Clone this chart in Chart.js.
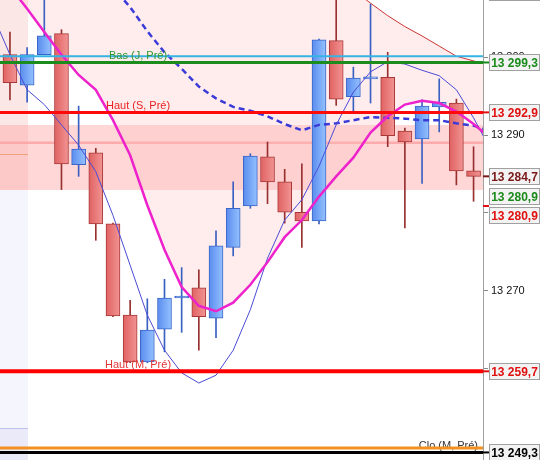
<!DOCTYPE html>
<html><head><meta charset="utf-8">
<script src="https://cdn.jsdelivr.net/npm/chart.js@4"></script>
<style>html,body{margin:0;padding:0;background:#fff;overflow:hidden}</style>
</head><body>
<canvas id="c" width="541" height="460"></canvas>
<script>
// ---- data ----
const candleIndex = [0,1,2,3,4,5,6,7,8,9,10,11,12,13,14,15,16,17,18,19,20,21,22,23,24,25,26,27,28];
const opens  = [13301.5,13300.3,13296.4,13300.3,13303.0,13286.2,13287.7,13278.6,13266.9,13260.9,13265.1,13269.1,13270.4,13266.5,13275.6,13280.9,13287.2,13284.0,13280.1,13279.0,13302.1,13294.9,13297.2,13297.4,13290.5,13289.5,13293.6,13294.1,13285.4];
const highs  = [13303.0,13303.2,13301.2,13309.0,13303.5,13293.7,13288.3,13278.7,13268.8,13269.0,13271.5,13273.0,13272.7,13277.7,13284.0,13287.6,13289.1,13285.6,13286.3,13302.3,13309.0,13298.7,13306.8,13300.6,13290.9,13294.5,13297.2,13294.6,13288.5];
const lows   = [13292.0,13294.5,13294.2,13300.3,13283.0,13284.7,13276.5,13266.7,13260.8,13260.8,13262.2,13264.7,13262.4,13264.0,13274.5,13280.6,13281.2,13278.7,13275.6,13278.6,13293.8,13293.1,13294.1,13288.5,13278.1,13283.8,13290.4,13283.6,13281.5];
const closes = [13296.0,13296.7,13300.3,13302.7,13286.3,13288.2,13278.6,13266.8,13260.9,13265.0,13269.1,13269.1,13266.7,13275.8,13280.6,13287.3,13284.0,13280.1,13279.0,13302.2,13294.6,13297.3,13297.2,13289.9,13289.1,13293.7,13294.2,13285.4,13284.7];

const maFast = [13305.4,13300.3,13295.8,13293.9,13291.3,13288.7,13285.3,13279.7,13273.3,13266.9,13262.4,13259.5,13258.2,13259.2,13262.4,13267.6,13274.2,13279.1,13281.7,13286.0,13291.3,13295.5,13298.1,13299.4,13299.1,13298.3,13297.6,13295.8,13292.2,13288.1];
const maMid  = [13311.2,13309.0,13306.2,13303.2,13300.3,13297.7,13295.8,13291.9,13287.4,13281.0,13275.3,13270.5,13268.1,13267.4,13268.5,13270.8,13273.7,13276.9,13279.1,13282.1,13284.7,13287.1,13290.3,13292.4,13293.9,13294.4,13294.1,13293.0,13291.4,13289.6];
const maDash = [13326.5,13324.6,13322.4,13320.1,13317.6,13314.6,13311.5,13308.9,13306.4,13303.3,13300.6,13298.5,13296.2,13294.7,13293.6,13293.1,13292.4,13291.4,13290.6,13291.3,13291.5,13291.9,13292.3,13292.2,13292.1,13291.9,13291.9,13291.5,13291.2,13290.5];
const maSlow = [13336.8,13335.8,13334.7,13333.6,13332.4,13331.3,13330.0,13328.7,13327.3,13325.9,13324.5,13323.0,13321.4,13319.9,13318.3,13316.9,13315.5,13314.2,13313.0,13311.7,13310.1,13308.6,13306.9,13305.3,13303.9,13302.7,13301.4,13300.1,13299.5,13298.9];

const yTicks = [13260,13270,13280,13290,13300];

const levelValues = [13300.1, 13299.3, 13292.9, 13259.7, 13249.3, 13249.87];
const levelNames  = ['', 'Bas (J, Pré)', 'Haut (S, Pré)', 'Haut (M, Pré)', 'Clo (M, Pré)', ''];
const levelColors = ['#35b4e3', '#1c8c1c', '#ff0a0a', '#ff0000', '#000000', '#f39022'];
const levelTextColors = ['', '#2f962f', '#e82222', '#e03535', '#333333', ''];
const levelWidths = [2, 3, 3, 4, 3, 3];
const levelTextPos = [0, 8.46, 8.46, 8.46, 28.26, 0];
const levelTextAlign = ['center','center','center','center','right','center'];

const axisLabelValues = [13308.3, 13299.3, 13292.9, 13284.7, 13280.9, 13280.9, 13259.7, 13249.3];
const axisLabelColors = ['#888888', '#1a8a1a', '#e01010', '#7a1818', '#1a8a1a', '#e01010', '#e01010', '#000000'];

const bandTop = 13291.28, bandBottom = 13282.95, bandLine = 13289.0;
const stripeEnd = 2.05, stripeSplit1 = 13282.95, stripeSplit2 = 13252.4, stripeOrange = 13287.6;

// ---- helpers ----
function fmtTick(v){ return String(Math.round(v)).replace(/\B(?=(\d{3})+(?!\d))/g,' '); }
function fmtLabel(v){ const s = v.toFixed(1).split('.'); return s[0].replace(/\B(?=(\d{3})+(?!\d))/g,' ') + ',' + s[1]; }
const isUp = i => closes[i] >= opens[i];

const bodyData = candleIndex.map(i => ({x:i, y:[opens[i], closes[i]]}));
const wickData = candleIndex.map(i => ({x:i, y:[lows[i], highs[i]]}));
const pts = arr => arr.map((v,i)=>({x:i, y:v}));

function bodyFill(ctx){
  const i = ctx.dataIndex, up = isUp(i);
  const chart = ctx.chart, xs = chart.scales && chart.scales.x;
  if (!xs || !chart.chartArea) return up ? '#74a4f6' : '#e87474';
  const px = xs.getPixelForValue(i);
  const g = chart.ctx.createLinearGradient(px-7,0,px+7,0);
  if (up){ g.addColorStop(0,'#5a8cee'); g.addColorStop(1,'#94c2ff'); }
  else   { g.addColorStop(0,'#e06262'); g.addColorStop(1,'#f29494'); }
  return g;
}

const bgPlugin = {
  id:'bg',
  beforeDraw(chart){
    const {ctx, chartArea:a, scales:{x, y}} = chart;
    ctx.save();
    ctx.fillStyle='#fff'; ctx.fillRect(0,0,chart.width,chart.height);
    ctx.beginPath(); ctx.rect(a.left,a.top,a.right-a.left,a.bottom-a.top); ctx.clip();
    const sx = x.getPixelForValue(stripeEnd);
    const s1 = y.getPixelForValue(stripeSplit1), s2 = y.getPixelForValue(stripeSplit2);
    ctx.fillStyle='#fce7e7'; ctx.fillRect(a.left,a.top,sx-a.left,s1-a.top);
    ctx.fillStyle='#f5f6fd'; ctx.fillRect(a.left,s1,sx-a.left,s2-s1);
    ctx.fillStyle='#eaeaf8'; ctx.fillRect(a.left,s2,sx-a.left,a.bottom-s2);
    ctx.strokeStyle='#bcc3ee'; ctx.lineWidth=1; ctx.beginPath(); ctx.moveTo(a.left,Math.round(s2)+0.5); ctx.lineTo(sx,Math.round(s2)+0.5); ctx.stroke();
    const b1 = y.getPixelForValue(bandTop), b2 = y.getPixelForValue(bandBottom);
    ctx.fillStyle='rgba(255,150,150,0.38)'; ctx.fillRect(a.left,b1,a.right-a.left,b2-b1);
    const bl = y.getPixelForValue(bandLine);
    ctx.strokeStyle='rgba(250,160,160,0.8)'; ctx.lineWidth=2.5; ctx.beginPath(); ctx.moveTo(a.left,bl); ctx.lineTo(a.right,bl); ctx.stroke();
    const so = y.getPixelForValue(stripeOrange);
    ctx.strokeStyle='#f0a27a'; ctx.lineWidth=1; ctx.beginPath(); ctx.moveTo(a.left,Math.round(so)+0.5); ctx.lineTo(sx,Math.round(so)+0.5); ctx.stroke();
    ctx.restore();
  }
};

const levelPlugin = {
  id:'levels',
  afterDatasetsDraw(chart){
    const {ctx, chartArea:a, scales:{x, y}} = chart;
    ctx.save();
    ctx.beginPath(); ctx.rect(a.left,a.top,a.right-a.left,a.bottom-a.top); ctx.clip();
    levelValues.forEach((v,i)=>{
      const py = y.getPixelForValue(v);
      ctx.strokeStyle = levelColors[i]; ctx.lineWidth = levelWidths[i];
      ctx.beginPath(); ctx.moveTo(a.left,py); ctx.lineTo(a.right,py); ctx.stroke();
      if (levelNames[i]){
        ctx.font = '11px "Liberation Sans", Arial, sans-serif';
        ctx.fillStyle = levelTextColors[i]; ctx.textAlign = levelTextAlign[i]; ctx.textBaseline='alphabetic';
        ctx.fillText(levelNames[i], x.getPixelForValue(levelTextPos[i]), py - levelWidths[i]/2 - 1.5);
      }
    });
    ctx.restore();
  },
  afterDraw(chart){
    const {ctx, chartArea:a, scales:{y}} = chart;
    const H = 16, GAP = 19;
    let items = axisLabelValues.map((v,i)=>({v, c:axisLabelColors[i], y0:y.getPixelForValue(v)}));
    items.sort((p,q)=>p.y0-q.y0);
    let groups = items.map(it=>({items:[it]}));
    const center = g => g.items.reduce((s,t)=>s+t.y0,0)/g.items.length;
    let changed = true;
    while(changed){
      changed=false;
      for(let k=0;k<groups.length-1;k++){
        const ga=groups[k], gb=groups[k+1];
        const aB = center(ga) + (ga.items.length-1)*GAP/2;
        const bT = center(gb) - (gb.items.length-1)*GAP/2;
        if (bT - aB < GAP){ groups.splice(k,2,{items:ga.items.concat(gb.items)}); changed=true; break; }
      }
    }
    ctx.save();
    groups.forEach(g=>{
      const c = center(g), n=g.items.length;
      g.items.forEach((it,j)=>{
        const cy = c - (n-1)*GAP/2 + j*GAP;
        const bx = a.right + 6, bw = 50;
        ctx.strokeStyle = it.c; ctx.lineWidth = 2;
        ctx.beginPath(); ctx.moveTo(a.right, it.y0); ctx.lineTo(bx, it.y0); ctx.stroke();
        ctx.fillStyle = '#f3f3f3'; ctx.fillRect(bx, cy-H/2, bw, H);
        ctx.strokeStyle = '#a0a0a0'; ctx.lineWidth = 1;
        ctx.strokeRect(Math.round(bx)+0.5, Math.round(cy-H/2)+0.5, bw, H);
        ctx.font = 'bold 12px "Liberation Sans", Arial, sans-serif';
        ctx.fillStyle = it.c; ctx.textAlign='center'; ctx.textBaseline='middle';
        ctx.fillText(fmtLabel(it.v), bx + bw/2 + 0.5, cy + 1);
      });
    });
    ctx.restore();
  }
};

new Chart(document.getElementById('c'), {
  type:'bar',
  data:{
    datasets:[
      {type:'line', label:'fast', data:pts(maFast), borderColor:'#4b4bd6', borderWidth:1, pointRadius:0, tension:0, order:1},
      {type:'line', label:'mid', data:pts(maMid), borderColor:'#ee22cc', borderWidth:2.5, pointRadius:0, tension:0, order:0,
        fill:{target:3, above:'rgba(0,0,0,0)', below:'rgba(255,190,190,0.28)'}},
      {type:'line', label:'dash', data:pts(maDash), borderColor:'#3a3ad8', borderWidth:2.5, borderDash:[6,4], pointRadius:0, tension:0, order:2},
      {type:'line', label:'slow', data:pts(maSlow), borderColor:'#cc3333', borderWidth:1, pointRadius:0, tension:0, order:3},
      {label:'wick', data:wickData, grouped:false, barThickness:1, borderWidth:0,
        backgroundColor: ctx => isUp(ctx.dataIndex) ? '#3a60c2' : '#983030', order:6},
      {label:'body', data:bodyData, grouped:false, barThickness:14, minBarLength:2, borderWidth:1, borderSkipped:false,
        backgroundColor: bodyFill,
        borderColor: ctx => isUp(ctx.dataIndex) ? '#3a66c8' : '#a83838', order:5}
    ]
  },
  options:{
    responsive:false, animation:false, events:[],
    layout:{padding:0},
    plugins:{legend:{display:false}, tooltip:{enabled:false}, filler:{drawTime:'beforeDatasetsDraw'}},
    scales:{
      x:{type:'linear', display:false, min:0.42, max:28.55, offset:false},
      y:{type:'linear', position:'right', min:13248.33, max:13307.31,
        afterBuildTicks(s){ s.ticks = yTicks.map(v=>({value:v})); },
        afterFit(s){ s.width = 58; s.paddingTop = 0; s.paddingBottom = 0; },
        grid:{drawOnChartArea:false, drawTicks:true, tickLength:5, color:'#8a8a8a'},
        border:{display:true, color:'#a0a0a0'},
        ticks:{color:'#111', padding:3, font:{family:'"Liberation Sans", Arial, sans-serif', size:11}, callback:v=>fmtTick(v)}
      }
    }
  },
  plugins:[bgPlugin, levelPlugin]
});
</script>
</body></html>
